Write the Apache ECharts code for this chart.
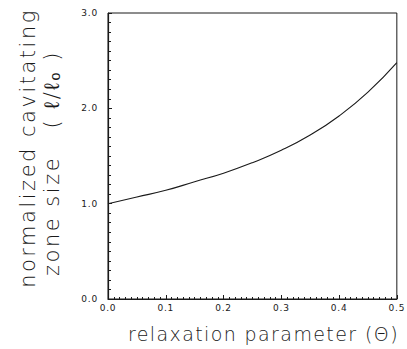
<!DOCTYPE html>
<html>
<head>
<meta charset="utf-8">
<script src="https://cdn.jsdelivr.net/npm/echarts@6/dist/echarts.min.js"></script>
<style>
  html, body { margin: 0; padding: 0; background: #fff; }
  #chart { width: 407px; height: 349px; }
</style>
</head>
<body>
<div id="chart"></div>
<script>
// relaxation parameter (theta) vs normalized cavitating zone size
const theta = [0, 0.05, 0.1, 0.15, 0.2, 0.25, 0.3, 0.35, 0.4, 0.45, 0.5];
const zoneSize = [1.00, 1.07, 1.14, 1.23, 1.32, 1.43, 1.56, 1.72, 1.92, 2.17, 2.48];

const xTitle = "relaxation parameter (Θ)";
const yTitle1 = "normalized cavitating";
const yTitle2 = "zone size   ( ℓ/ℓₒ )";

const ink = "#1a1a1a";
const font = "'DejaVu Sans', sans-serif";

const chart = echarts.init(document.getElementById("chart"), null, { renderer: "svg" });

// the scanned lettering is widely spaced; svg text lets us open it up
function spaceOut() {
  document.querySelectorAll("#chart text").forEach(t => {
    const s = t.textContent;
    if (s === yTitle1 || s === yTitle2) t.setAttribute("letter-spacing", "2.5");
    else if (s === xTitle) t.setAttribute("letter-spacing", "1.4");
    else t.setAttribute("letter-spacing", "0.8");
  });
}
chart.on("finished", spaceOut);

chart.setOption({
  backgroundColor: "#fff",
  animation: false,
  grid: {
    left: 108, right: 4, top: 13, bottom: 50,
    show: true, borderColor: ink, borderWidth: 1
  },
  xAxis: {
    type: "value",
    min: 0, max: 0.5, interval: 0.1,
    name: xTitle,
    nameLocation: "middle",
    nameGap: 25,
    nameTextStyle: { color: ink, fontSize: 19, fontFamily: font, fontWeight: 200, padding: [0, 0, 0, 22] },
    axisLine: { lineStyle: { color: ink, width: 1.2 } },
    axisTick: { inside: true, length: 4, lineStyle: { color: ink } },
    minorTick: { show: true, splitNumber: 10, length: 2, lineStyle: { color: ink } },
    splitLine: { show: false },
    axisLabel: {
      color: ink, fontSize: 9, fontFamily: font, margin: 4,
      formatter: v => v.toFixed(1)
    }
  },
  yAxis: {
    type: "value",
    min: 0, max: 3, interval: 1,
    axisLine: { show: true, lineStyle: { color: ink, width: 1.2 } },
    axisTick: { show: true, inside: true, length: 4, lineStyle: { color: ink } },
    minorTick: { show: true, splitNumber: 10, length: 3, lineStyle: { color: ink } },
    splitLine: { show: false },
    axisLabel: {
      color: ink, fontSize: 9, fontFamily: font, margin: 10,
      formatter: v => v.toFixed(1)
    }
  },
  graphic: [
    {
      type: "text", x: 28, y: 148, rotation: Math.PI / 2,
      style: {
        text: yTitle1, fill: ink,
        font: "200 21px " + font, align: "center", verticalAlign: "middle"
      }
    },
    {
      type: "text", x: 52, y: 163, rotation: Math.PI / 2,
      style: {
        text: yTitle2, fill: ink,
        font: "200 21px " + font, align: "center", verticalAlign: "middle"
      }
    }
  ],
  series: [{
    type: "line",
    data: theta.map((t, i) => [t, zoneSize[i]]),
    smooth: true,
    symbol: "none",
    lineStyle: { color: ink, width: 1.1 }
  }]
});
spaceOut();
</script>
</body>
</html>
